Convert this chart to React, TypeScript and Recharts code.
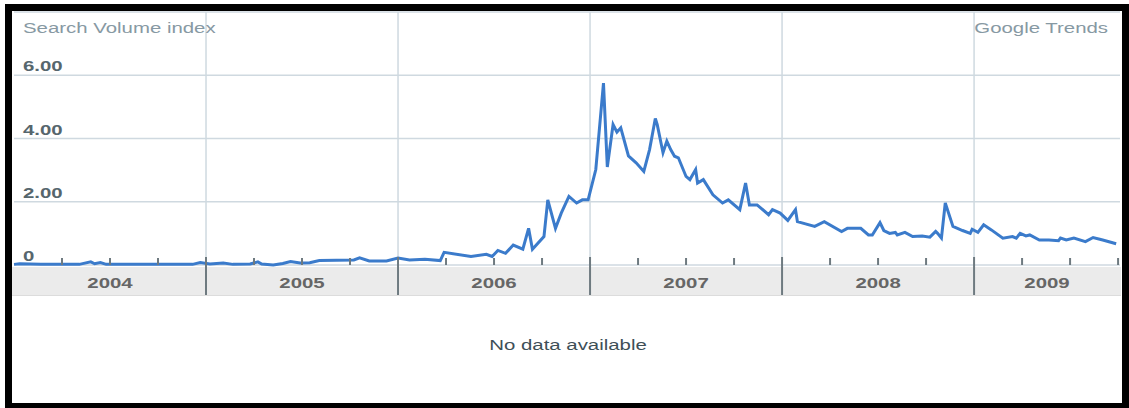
import React from 'react';
import { LineChart, Line, XAxis, YAxis, CartesianGrid, ReferenceLine } from 'recharts';

// weekly search volume: date as decimal year, index value
const weeks = [
  2004.0, 2004.03, 2004.14, 2004.34, 2004.4, 2004.42, 2004.45, 2004.48, 2004.71, 2004.93,
  2004.97, 2005.02, 2005.09, 2005.14, 2005.23, 2005.27, 2005.29, 2005.35, 2005.4, 2005.44,
  2005.49, 2005.54, 2005.59, 2005.77, 2005.8, 2005.85, 2005.94, 2006.0, 2006.06, 2006.14,
  2006.22, 2006.24, 2006.38, 2006.46, 2006.49, 2006.52, 2006.56, 2006.6, 2006.65, 2006.68,
  2006.7, 2006.76, 2006.78, 2006.82, 2006.85, 2006.89, 2006.93, 2006.96, 2006.99, 2007.03,
  2007.07, 2007.09, 2007.12, 2007.14, 2007.16, 2007.2, 2007.24, 2007.28, 2007.31, 2007.34,
  2007.35, 2007.38, 2007.4, 2007.42, 2007.44, 2007.46, 2007.5, 2007.52, 2007.55, 2007.56,
  2007.59, 2007.64, 2007.69, 2007.72, 2007.78, 2007.81, 2007.83, 2007.87, 2007.93, 2007.95,
  2007.99, 2008.03, 2008.07, 2008.08, 2008.17, 2008.22, 2008.31, 2008.34, 2008.41, 2008.45,
  2008.47, 2008.51, 2008.53, 2008.56, 2008.59, 2008.6, 2008.64, 2008.68, 2008.73, 2008.77,
  2008.8, 2008.81, 2008.83, 2008.85, 2008.89, 2008.94, 2008.98, 2008.99, 2009.02, 2009.05,
  2009.09, 2009.15, 2009.2, 2009.22, 2009.24, 2009.27, 2009.29, 2009.34, 2009.39, 2009.44,
  2009.45, 2009.48, 2009.52, 2009.58, 2009.62, 2009.67, 2009.74,
];
const volume = [
  0.02, 0.04, 0.02, 0.02, 0.1, 0.04, 0.08, 0.02, 0.02, 0.02,
  0.08, 0.03, 0.06, 0.02, 0.03, 0.1, 0.03, 0.0, 0.05, 0.11,
  0.06, 0.07, 0.14, 0.16, 0.23, 0.13, 0.13, 0.22, 0.16, 0.18,
  0.14, 0.4, 0.27, 0.34, 0.27, 0.46, 0.37, 0.63, 0.5, 1.16,
  0.5, 0.9, 2.06, 1.16, 1.64, 2.17, 1.96, 2.06, 2.06, 3.02,
  5.75, 3.1, 4.44, 4.2, 4.34, 3.45, 3.23, 2.96, 3.65, 4.63,
  4.44, 3.55, 3.92, 3.65, 3.44, 3.39, 2.8, 2.7, 3.02, 2.59,
  2.7, 2.22, 1.96, 2.06, 1.75, 2.59, 1.9, 1.9, 1.59, 1.75,
  1.64, 1.41, 1.75, 1.37, 1.22, 1.37, 1.06, 1.16, 1.16, 0.95,
  0.95, 1.34, 1.09, 1.0, 1.03, 0.95, 1.03, 0.9, 0.92, 0.88,
  1.06, 1.0, 0.85, 1.96, 1.22, 1.09, 1.0, 1.13, 1.03, 1.27,
  1.11, 0.85, 0.9, 0.85, 1.0, 0.92, 0.95, 0.79, 0.79, 0.77,
  0.85, 0.79, 0.85, 0.74, 0.87, 0.79, 0.67,
];

const yTicks = [0, 2, 4, 6];
const yTickLabels = ['0', '2.00', '4.00', '6.00'];
const years = [2004, 2005, 2006, 2007, 2008, 2009];
const X_START = 2004;
const X_END = 2009.76;

const data = weeks.map((t, i) => ({ t, v: volume[i] }));

// quarter marks plus the middle of each (visible) year for the labels
const quarters: number[] = [];
years.forEach((y) => [0, 0.25, 0.5, 0.75].forEach((q) => quarters.push(y + q)));
const labelAt = years.map((y) => (y + Math.min(y + 1, X_END)) / 2);
const axisTicks = Array.from(new Set([...quarters, ...labelAt])).sort((a, b) => a - b);

const W = 1108;
const H = 285;
const PLOT_BOTTOM = 254; // chart coords of the zero line
const STRETCH = 1.36; // the screenshot is stretched sideways

const FONT = 'Arial, "Liberation Sans", sans-serif';
const GRID = '#cfd9e0';
const BLUE = '#3b7bcb';

const YearTick = (props: any) => {
  const { x, payload } = props;
  const v = payload.value as number;
  const out: React.ReactNode[] = [];
  if (Number.isInteger(v) && v > X_START) {
    out.push(<line key="s" x1={x} x2={x} y1={PLOT_BOTTOM - 8} y2={PLOT_BOTTOM + 30} stroke="#6e7a80" strokeWidth={2} />);
  } else if (Number.isInteger(v * 4) && v > X_START) {
    out.push(<line key="q" x1={x} x2={x} y1={PLOT_BOTTOM - 7} y2={PLOT_BOTTOM} stroke="#6e7a80" strokeWidth={2} />);
  }
  const li = labelAt.indexOf(v);
  if (li >= 0) {
    out.push(
      <g key="l" transform={`translate(${x},${PLOT_BOTTOM + 23}) scale(${STRETCH},1)`}>
        <text x={0} y={0} textAnchor="middle" fontSize={15} fontFamily={FONT} fill="#666" fontWeight="bold">
          {String(years[li])}
        </text>
      </g>
    );
  }
  return <g>{out}</g>;
};

const ValueTick = (props: any) => {
  const { y, payload } = props;
  const label = yTickLabels[yTicks.indexOf(payload.value)];
  return (
    <g transform={`translate(11,${y - 4}) scale(${STRETCH},1)`}>
      <text x={0} y={0} fontSize={15} fontFamily={FONT} fill="#56666d" fontWeight="bold">
        {label}
      </text>
    </g>
  );
};

export default function App() {
  return (
    <div style={{ position: 'absolute', left: 0, top: 0, width: 1129, height: 408, background: '#fff' }}>
      <div
        style={{
          position: 'absolute',
          left: 5,
          top: 4,
          width: 1124,
          height: 404,
          boxSizing: 'border-box',
          borderStyle: 'solid',
          borderColor: '#000',
          borderWidth: '7px 7px 5px 7px',
        }}
      >
        {/* year band behind the axis */}
        <div style={{ position: 'absolute', left: 0, top: 256, width: 1109, height: 28, background: '#ebebeb', borderBottom: '1px solid #dcdcdc' }} />
        <div style={{ position: 'absolute', left: 0, top: 0 }}>
          <LineChart width={W} height={H} data={data} margin={{ top: 1, right: 0, bottom: 0, left: 2 }}>
            <CartesianGrid vertical={false} stroke={GRID} strokeWidth={1.5} />
            <XAxis
              dataKey="t"
              type="number"
              domain={[X_START, X_END]}
              ticks={axisTicks}
              interval={0}
              height={31}
              axisLine={false}
              tickLine={false}
              tick={YearTick}
            />
            <YAxis domain={[0, 8]} ticks={yTicks} width={40} mirror interval={0} axisLine={false} tickLine={false} tick={ValueTick} />
            {years.slice(1).map((y) => (
              <ReferenceLine key={y} x={y} stroke={GRID} strokeWidth={1.5} />
            ))}
            <Line type="linear" dataKey="v" stroke={BLUE} strokeWidth={3} dot={false} isAnimationActive={false} />
          </LineChart>
        </div>
      </div>
      <svg width={1129} height={408} style={{ position: 'absolute', left: 0, top: 0, pointerEvents: 'none' }}>
        <g transform={`translate(23,33) scale(${STRETCH},1)`}>
          <text x={0} y={0} fontSize={15} fontFamily={FONT} fill="#8799a3">Search Volume index</text>
        </g>
        <g transform={`translate(1108,33) scale(${STRETCH},1)`}>
          <text x={0} y={0} textAnchor="end" fontSize={15} fontFamily={FONT} fill="#8799a3">Google Trends</text>
        </g>
        <g transform={`translate(568,350) scale(${STRETCH},1)`}>
          <text x={0} y={0} textAnchor="middle" fontSize={15} fontFamily={FONT} fill="#3e4f57">No data available</text>
        </g>
      </svg>
    </div>
  );
}
